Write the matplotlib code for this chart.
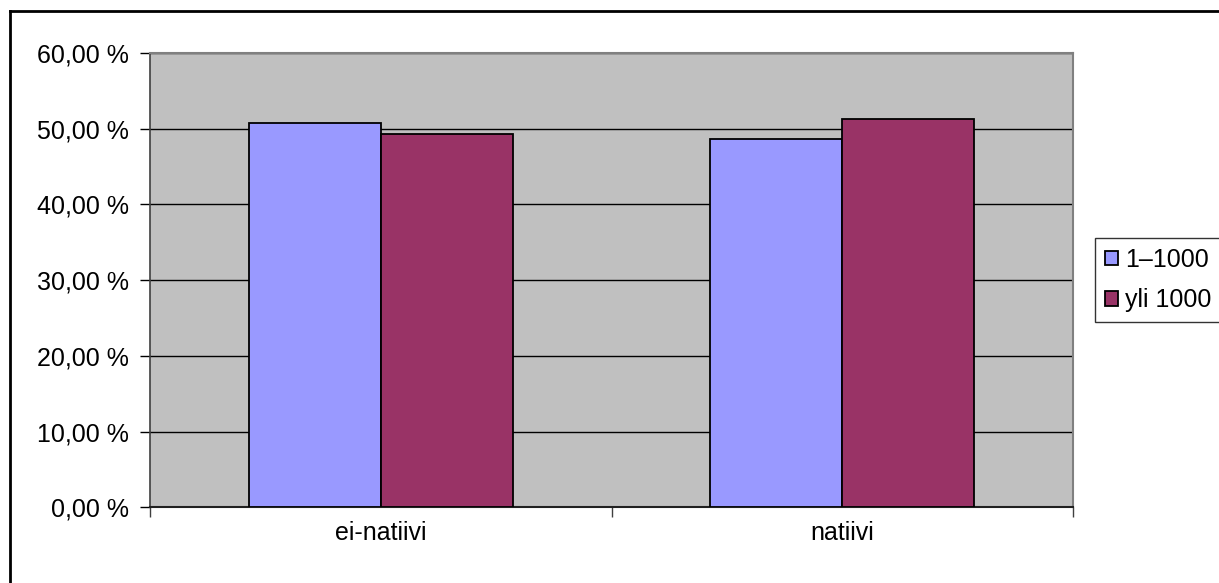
import numpy as np
import matplotlib.pyplot as plt
from matplotlib.lines import Line2D
from matplotlib.ticker import FuncFormatter

plt.rcParams['font.family'] = ['Liberation Sans', 'DejaVu Sans']

categories = ['ei-natiivi', 'natiivi']
series_names = ['1\u20131000', 'yli 1000']
series_values = [
    [50.7, 48.7],   # 1–1000
    [49.3, 51.3],   # yli 1000
]
series_colors = ['#9999ff', '#993366']
y_ticks = [0, 10, 20, 30, 40, 50, 60]

fig = plt.figure(figsize=(12.19, 5.83), dpi=100)
ax = fig.add_axes([150 / 1219, 1 - 507.3 / 583, 923 / 1219, 454.3 / 583])

x = np.arange(len(categories))
width = 0.286
for i, (name, vals, col) in enumerate(zip(series_names, series_values, series_colors)):
    ax.bar(x + (i - 0.5) * width, vals, width, color=col, edgecolor='black',
           linewidth=1.3, label=name, zorder=3)

ax.set_facecolor('#c0c0c0')
ax.set_xlim(-0.5, len(categories) - 0.5)
ax.set_ylim(0, 60)
ax.set_yticks(y_ticks)
ax.yaxis.set_major_formatter(FuncFormatter(lambda v, p: f'{v:.2f} %'.replace('.', ',')))
ax.yaxis.grid(True, color='black', linewidth=1.0, zorder=1)
ax.set_axisbelow(True)

ax.set_xticks(x)
ax.set_xticklabels(categories)
ax.set_xticks(np.arange(-0.5, len(categories)), minor=True)
ax.tick_params(axis='x', which='major', length=0, pad=10, labelsize=18)
ax.tick_params(axis='x', which='minor', length=7, width=1, color='#404040')
ax.tick_params(axis='y', length=7, width=1, pad=8, labelsize=18)

for side in ['top', 'right']:
    ax.spines[side].set_color('#808080')
    ax.spines[side].set_linewidth(1.5)
ax.spines['left'].set_color('#404040')
ax.spines['bottom'].set_color('#202020')
ax.spines['left'].set_linewidth(1.2)
ax.spines['bottom'].set_linewidth(1.5)

leg = fig.legend(loc='upper left', bbox_to_anchor=(1095 / 1219, 1 - 238 / 583),
                 frameon=True, fancybox=False, edgecolor='black', fontsize=18,
                 handlelength=0.5, handleheight=0.5, handletextpad=0.3,
                 borderpad=0.4, labelspacing=0.65, borderaxespad=0)
leg.get_frame().set_linewidth(1.0)

# outer chart frame
fig.add_artist(Line2D([10 / 1219, 10 / 1219], [0, 1 - 11 / 583], transform=fig.transFigure,
                      color='black', linewidth=2))
fig.add_artist(Line2D([10 / 1219, 1], [1 - 11 / 583, 1 - 11 / 583], transform=fig.transFigure,
                      color='black', linewidth=2))

fig.savefig('out.png', dpi=100)
